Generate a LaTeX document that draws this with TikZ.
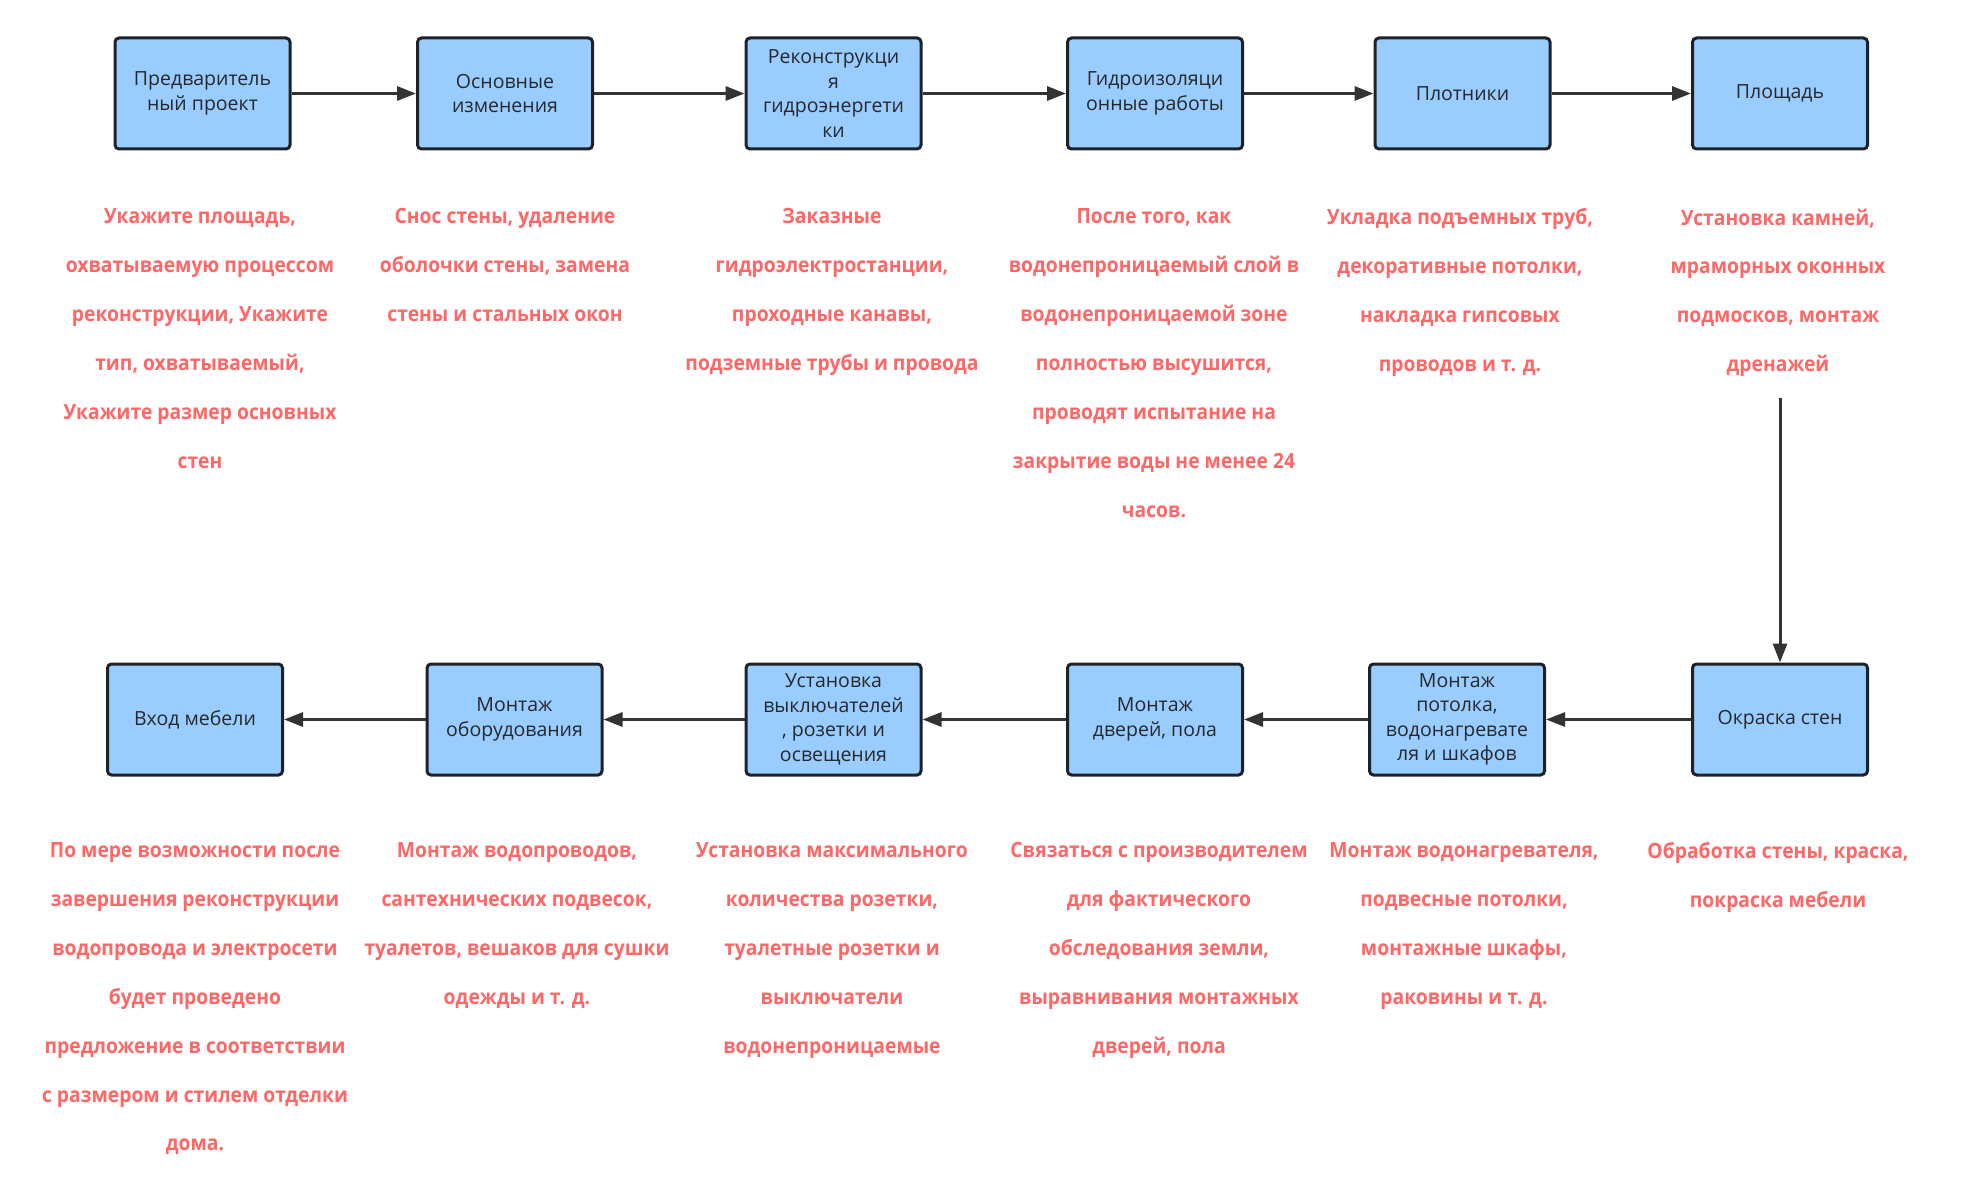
\documentclass[tikz,border=0pt]{standalone}
\usepackage{fontspec}
\setmainfont{Open Sans}
\newfontfamily\descfont[FakeStretch=0.92]{Open Sans}
\usetikzlibrary{arrows.meta}
\definecolor{boxfill}{RGB}{153,204,255}
\definecolor{boxdraw}{RGB}{30,34,40}
\definecolor{boxtext}{RGB}{40,40,40}
\definecolor{desctext}{RGB}{255,102,102}
\definecolor{arrowcol}{RGB}{51,51,51}
\tikzset{
  stepbox/.style={draw=boxdraw, line width=3pt, fill=boxfill, rounded corners=4pt,
    minimum width=175pt, minimum height=111pt, inner sep=2pt, align=center,
    text=boxtext, font=\fontsize{19.5}{24.5}\selectfont},
  desc/.style={text=desctext, align=center, anchor=north, inner sep=0pt,
    font=\descfont\bfseries\fontsize{21}{48.9}\selectfont,
    execute at begin node={\rule{0pt}{21pt}}},
  arr/.style={draw=arrowcol, line width=3pt, -{Triangle[length=19pt,width=14pt]}}
}
\begin{document}
\begin{tikzpicture}[x=1pt,y=-1pt]
\useasboundingbox (0,0) rectangle (1974,1204);
% top row
\node[stepbox] (b1) at (202.5,93.5) {Предваритель\\ный проект};
\node[stepbox] (b2) at (505,93.5) {Основные\\изменения};
\node[stepbox] (b3) at (833.5,93.5) {Реконструкци\\я\\гидроэнергети\\ки};
\node[stepbox] (b4) at (1155,93.5) {Гидроизоляци\\онные работы};
\node[stepbox] (b5) at (1462.5,93.5) {Плотники};
\node[stepbox] (b6) at (1780,93.5) {Площадь};
% bottom row
\node[stepbox] (b12) at (195,719.5) {Вход мебели};
\node[stepbox] (b11) at (514.5,719.5) {Монтаж\\оборудования};
\node[stepbox] (b10) at (833.5,719.5) {Установка\\выключателей\\, розетки и\\освещения};
\node[stepbox] (b9) at (1155,719.5) {Монтаж\\дверей, пола};
\node[stepbox] (b8) at (1457,719.5) {Монтаж\\потолка,\\водонагревате\\ля и шкафов};
\node[stepbox] (b7) at (1780,719.5) {Окраска стен};
% descriptions top
\node[desc] (d1) at (200,208.5) {Укажите площадь,\\охватываемую процессом\\реконструкции, Укажите\\тип, охватываемый,\\Укажите размер основных\\стен};
\node[desc] (d2) at (505,208.5) {Снос стены, удаление\\оболочки стены, замена\\стены и стальных окон};
\node[desc] (d3) at (832,208.5) {Заказные\\гидроэлектростанции,\\проходные канавы,\\подземные трубы и провода};
\node[desc] (d4) at (1154,208.5) {После того, как\\водонепроницаемый слой в\\водонепроницаемой зоне\\полностью высушится,\\проводят испытание на\\закрытие воды не менее 24\\часов.};
\node[desc] (d5) at (1460,208.5) {Укладка подъемных труб,\\декоративные потолки,\\накладка гипсовых\\проводов и т. д.};
\node[desc] (d6) at (1778,208.5) {Установка камней,\\мраморных оконных\\подмосков, монтаж\\дренажей};
% descriptions bottom
\node[desc] (d12) at (195,842.3) {По мере возможности после\\завершения реконструкции\\водопровода и электросети\\будет проведено\\предложение в соответствии\\с размером и стилем отделки\\дома.};
\node[desc] (d11) at (517,842.3) {Монтаж водопроводов,\\сантехнических подвесок,\\туалетов, вешаков для сушки\\одежды и т. д.};
\node[desc] (d10) at (832,842.3) {Установка максимального\\количества розетки,\\туалетные розетки и\\выключатели\\водонепроницаемые};
\node[desc] (d9) at (1159,842.3) {Связаться с производителем\\для фактического\\обследования земли,\\выравнивания монтажных\\дверей, пола};
\node[desc] (d8) at (1464,842.3) {Монтаж водонагревателя,\\подвесные потолки,\\монтажные шкафы,\\раковины и т. д.};
\node[desc] (d7) at (1778,842.3) {Обработка стены, краска,\\покраска мебели};
% connectors
\draw[arr] (b1) -- (b2);
\draw[arr] (b2) -- (b3);
\draw[arr] (b3) -- (b4);
\draw[arr] (b4) -- (b5);
\draw[arr] (b5) -- (b6);
\coordinate (v0) at (1780,398);
\draw[arr] (v0) -- (b7.north);
\draw[arr] (b7) -- (b8);
\draw[arr] (b8) -- (b9);
\draw[arr] (b9) -- (b10);
\draw[arr] (b10) -- (b11);
\draw[arr] (b11) -- (b12);
\end{tikzpicture}
\end{document}
